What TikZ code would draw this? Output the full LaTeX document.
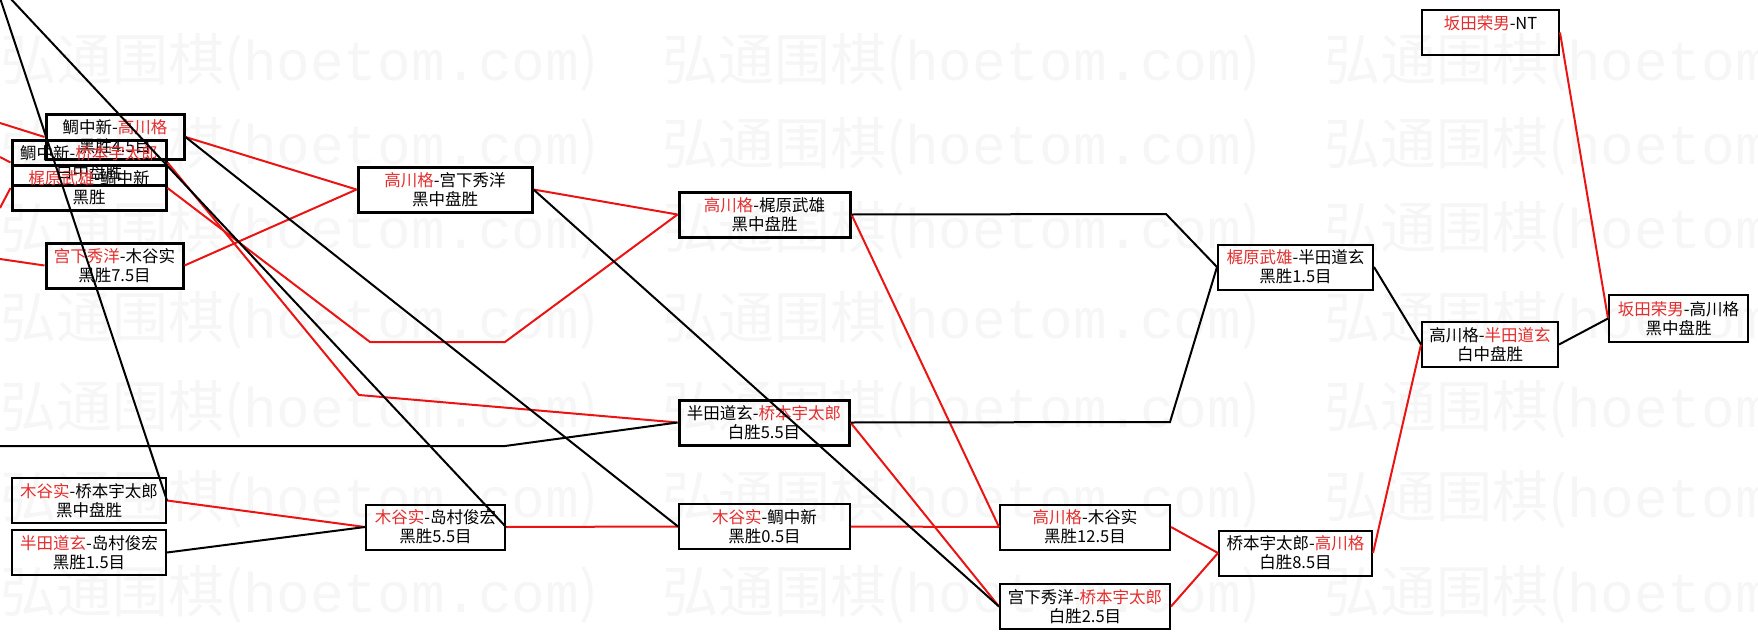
\documentclass[tikz,border=0pt]{standalone}
\usepackage{fontspec}
\setmainfont{Noto Sans CJK SC}
\newfontfamily\wmfont{Liberation Mono}
\definecolor{winred}{RGB}{228,45,45}
\definecolor{linered}{RGB}{235,20,20}
\definecolor{wmgray}{RGB}{246,246,246}
\newcommand{\winner}[1]{\textcolor{winred}{#1}}

\begin{document}
\begin{tikzpicture}[x=1pt,y=-1pt]
\tikzstyle{every node} = [font=\fontsize{16.5}{19}\selectfont]
\tikzstyle{match} = [draw, line width=2pt, inner sep=0pt, minimum height=45pt, align=center]
\tikzstyle{bold match} = [match, line width=3pt]
\tikzstyle{win} = [draw=linered, line width=2pt]
\tikzstyle{lose} = [draw=black, line width=2pt]
\tikzstyle{wmark} = [text=wmgray, inner sep=0pt, font=\fontsize{56}{56}\selectfont]

\useasboundingbox (0,0) rectangle (1758,637);

% filigrana
\foreach \y in {62,146,230,320,409,499,594}
  \foreach \x in {0,662,1324}
    \node[wmark, anchor=west] at (\x,\y) {弘通围棋({\wmfont hoetom.com})};

% primo turno
\node[bold match, minimum width=138pt] (a1) at (115,137) {鲷中新-\winner{高川格}\\黑胜4.5目};
\node[bold match, minimum width=154pt] (a2) at (89,162.5) {鲷中新-\winner{桥本宇太郎}\\白中盘胜};
\node[bold match, minimum width=154pt] (a3) at (89,188) {\winner{梶原武雄}-鲷中新\\黑胜};
\node[bold match, minimum width=137pt] (a4) at (114.5,265.5) {\winner{宫下秀洋}-木谷实\\黑胜7.5目};
\node[match, minimum width=154pt] (a5) at (89,500.5) {\winner{木谷实}-桥本宇太郎\\黑中盘胜};
\node[match, minimum width=154pt] (a6) at (89,552.5) {\winner{半田道玄}-岛村俊宏\\黑胜1.5目};

% secondo turno
\node[bold match, minimum width=174pt] (b1) at (445,189.5) {\winner{高川格}-宫下秀洋\\黑中盘胜};
\node[match, minimum width=139pt] (b2) at (435.5,527) {\winner{木谷实}-岛村俊宏\\黑胜5.5目};

% terzo turno
\node[bold match, minimum width=171pt] (c1) at (764.5,214.5) {\winner{高川格}-梶原武雄\\黑中盘胜};
\node[bold match, minimum width=170pt] (c2) at (764,422.5) {半田道玄-\winner{桥本宇太郎}\\白胜5.5目};
\node[match, minimum width=171pt] (c3) at (764.5,526.5) {\winner{木谷实}-鲷中新\\黑胜0.5目};

\node[match, minimum width=170pt] (d1) at (1085,527) {\winner{高川格}-木谷实\\黑胜12.5目};
\node[match, minimum width=170pt] (d2) at (1085,606.5) {宫下秀洋-\winner{桥本宇太郎}\\白胜2.5目};

\node[match, minimum width=155pt] (e1) at (1295.5,267) {\winner{梶原武雄}-半田道玄\\黑胜1.5目};
\node[match, minimum width=153pt] (e2) at (1295.5,553) {桥本宇太郎-\winner{高川格}\\白胜8.5目};

\node[match, minimum width=136pt] (f1) at (1490,344.5) {高川格-\winner{半田道玄}\\白中盘胜};
\node[match, minimum width=137pt] (f2) at (1490.5,32.5) {\winner{坂田荣男}-NT\\\mbox{}};

% finale
\node[match, minimum width=139pt, minimum height=47pt] (g1) at (1678.5,318.5) {\winner{坂田荣男}-高川格\\黑中盘胜};

% estremi liberi
\coordinate (in1) at (0,123);
\coordinate (in2) at (0,157);
\coordinate (in3) at (0,208);
\coordinate (in4) at (0,259);
\coordinate (in5) at (0,446);
\coordinate (top1) at (0,-2);
\coordinate (top2) at (10,-2);
\coordinate (r1) at (370,342);
\coordinate (r2) at (505,342);
\coordinate (r3) at (359,395);
\coordinate (k1) at (505,446);
\coordinate (k2) at (1166,214);
\coordinate (k3) at (1170,422);

% linee rosse
\draw[win] (in1) -- (a1.west);
\draw[win] (in2) -- (a2.west);
\draw[win] (in3) -- (a3.west);
\draw[win] (in4) -- (a4.west);
\draw[win] (a1.east) -- (b1.west);
\draw[win] (a4.east) -- (b1.west);
\draw[win] (a3.east) -- (r1) -- (r2) -- (c1.west);
\draw[win] (a2.east) -- (r3) -- (c2.west);
\draw[win] (a5.east) -- (b2.west);
\draw[win] (b1.east) -- (c1.west);
\draw[win] (b2.east) -- (c3.west);
\draw[win] (c1.east) -- (d1.west);
\draw[win] (c3.east) -- (d1.west);
\draw[win] (c2.east) -- (d2.west);
\draw[win] (d1.east) -- (e2.west);
\draw[win] (d2.east) -- (e2.west);
\draw[win] (e2.east) -- (f1.west);
\draw[win] (f2.east) -- (g1.west);

% linee nere
\draw[lose] (top1) -- (a5.east);
\draw[lose] (top2) -- (b2.east);
\draw[lose] (a1.east) -- (c3.west);
\draw[lose] (b1.east) -- (d2.west);
\draw[lose] (a6.east) -- (b2.west);
\draw[lose] (in5) -- (k1) -- (c2.west);
\draw[lose] (c1.east) -- (k2) -- (e1.west);
\draw[lose] (c2.east) -- (k3) -- (e1.west);
\draw[lose] (e1.east) -- (f1.west);
\draw[lose] (f1.east) -- (g1.west);

\end{tikzpicture}
\end{document}
